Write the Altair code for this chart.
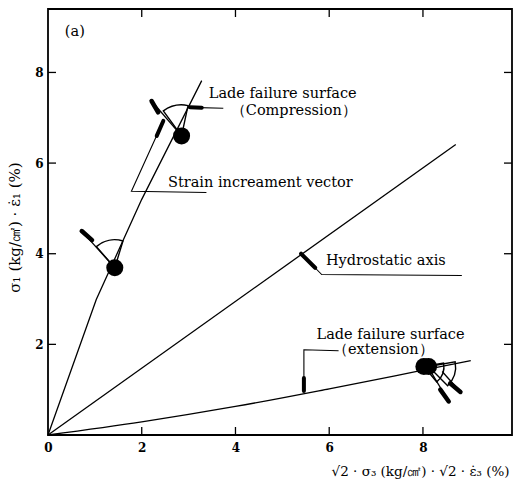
import altair as alt
import pandas as pd

# ---------------- data (data units) ----------------
x_tick_vals = [0, 2, 4, 6, 8]
y_tick_vals = [2, 4, 6, 8]
inner_ticks = [2, 4, 6, 8]

# failure surfaces and hydrostatic axis
comp_x = [0, 1.03, 2.00, 3.28]
comp_y = [0, 2.99, 5.20, 7.82]
hydro_x = [0, 8.70]
hydro_y = [0, 6.41]
ext_x = [0, 2.0, 4.0, 6.0, 8.0, 9.02]
ext_y = [0, 0.29, 0.63, 1.02, 1.43, 1.64]

# stress points
pt_x = [1.425, 2.85, 8.02, 8.12]
pt_y = [3.69, 6.60, 1.51, 1.51]

# strain increment vectors: start, head base, tip
vec_x0 = [1.425, 2.85, 8.19, 8.41]
vec_y0 = [3.69, 6.60, 1.36, 1.40]
vec_xh = [0.94, 2.35, 8.37, 8.58]
vec_yh = [4.30, 7.12, 1.00, 1.14]
vec_x1 = [0.72, 2.21, 8.55, 8.80]
vec_y1 = [4.50, 7.37, 0.74, 0.95]

# angle arcs: centre and start/end angle (degrees, clockwise from up)
arc_x = [1.425, 2.85, 8.02, 8.12]
arc_y = [3.69, 6.60, 1.51, 1.51]
arc_a0 = [319, 324, 80, 80]
arc_a1 = [377, 372, 140, 135]

# leader lines (polylines)
lead_group = ["strain", "strain", "strain", "comp", "comp",
              "hydro", "hydro", "hydro", "ext", "ext", "ext"]
lead_x = [3.38, 1.78, 2.46, 3.74, 3.03, 8.83, 5.84, 5.40, 6.20, 5.46, 5.46]
lead_y = [5.35, 5.38, 6.93, 7.21, 7.23, 3.52, 3.54, 4.00, 1.86, 1.88, 0.97]
# leader arrow heads: base -> tip
head_x0 = [2.32, 3.28, 5.70, 5.46]
head_y0 = [6.60, 7.22, 3.69, 1.26]
head_x1 = [2.46, 3.03, 5.40, 5.46]
head_y1 = [6.93, 7.23, 4.00, 0.97]

# annotations
label_text = ["(a)", "Lade failure surface", "（Compression）",
              "Strain increament vector", "Hydrostatic  axis",
              "Lade failure surface", "（extension）"]
label_x = [0.36, 3.43, 3.90, 2.56, 5.93, 5.73, 6.08]
label_y = [8.89, 7.52, 7.15, 5.57, 3.83, 2.21, 1.88]

# ---------------- styles ----------------
W, H = 464, 426
TICK = 8
arc_radius = [28, 31, 20, 27]
FONT = "DejaVu Serif"

xs = alt.Scale(domain=[0, 9.9], nice=False, zero=False)
ys = alt.Scale(domain=[0, 9.4], nice=False, zero=False)

X_AX = alt.Axis(
    values=x_tick_vals, grid=False, domain=False, ticks=False, labelPadding=7,
    labelFlush=False,
    labelFont=FONT, labelFontSize=12, labelFontWeight="bold", labelColor="black",
    title="√2 · σ₃ (kg/㎠) · √2 · ε̇₃ (%)", titleFont=FONT, titleFontSize=13.5,
    titleFontWeight="normal", titleColor="black", titleAlign="right",
    titleAnchor="end", titleX=461, titleY=40, titleBaseline="alphabetic")
Y_AX = alt.Axis(
    values=y_tick_vals, grid=False, domain=False, ticks=False, labelPadding=5,
    labelFlush=False,
    labelFont=FONT, labelFontSize=12, labelFontWeight="bold", labelColor="black",
    title="σ₁ (kg/㎠) · ε̇₁ (%)", titleFont=FONT, titleFontSize=15,
    titleFontWeight="normal", titleColor="black", titleAngle=270,
    titleAlign="center", titleBaseline="middle", titleX=-34, titleY=218)


def X(f):
    return alt.X(f, scale=xs, axis=X_AX)


def Y(f):
    return alt.Y(f, scale=ys, axis=Y_AX)


# ---------------- frames ----------------
curve_df = pd.concat([
    pd.DataFrame({"x": comp_x, "y": comp_y, "g": "comp", "i": range(len(comp_x))}),
    pd.DataFrame({"x": hydro_x, "y": hydro_y, "g": "hydro", "i": range(len(hydro_x))}),
], ignore_index=True)
ext_df = pd.DataFrame({"x": ext_x, "y": ext_y, "i": range(len(ext_x))})

pts_df = pd.DataFrame({"x": pt_x, "y": pt_y})
vec_df = pd.DataFrame({"x0": vec_x0, "y0": vec_y0, "xh": vec_xh, "yh": vec_yh,
                       "x1": vec_x1, "y1": vec_y1})
arc_df = pd.DataFrame({"x": arc_x, "y": arc_y, "a0": arc_a0, "a1": arc_a1, "r": arc_radius})
lead_df = pd.DataFrame({"x": lead_x, "y": lead_y, "g": lead_group, "i": range(len(lead_x))})
head_df = pd.DataFrame({"x0": head_x0, "y0": head_y0, "x1": head_x1, "y1": head_y1})
lab_df = pd.DataFrame({"t": label_text, "x": label_x, "y": label_y})
tick_df = pd.DataFrame({"t": inner_ticks})

# ---------------- layers ----------------
curves = alt.Chart(curve_df).mark_line(color="black", strokeWidth=1.3).encode(
    x=X("x:Q"), y=Y("y:Q"), detail="g:N", order="i:Q")

ext_curve = alt.Chart(ext_df).mark_line(color="black", strokeWidth=1.3,
                                        interpolate="monotone").encode(
    x=X("x:Q"), y=Y("y:Q"), order="i:Q")

leaders = alt.Chart(lead_df).mark_line(color="black", strokeWidth=1.1).encode(
    x=X("x:Q"), y=Y("y:Q"), detail="g:N", order="i:Q")

shafts = alt.Chart(vec_df).mark_rule(color="black", strokeWidth=1.3).encode(
    x=X("x0:Q"), y=Y("y0:Q"), x2="x1:Q", y2="y1:Q")

vheads = alt.Chart(vec_df).mark_rule(color="black", strokeWidth=4.5, strokeCap="round").encode(
    x=X("xh:Q"), y=Y("yh:Q"), x2="x1:Q", y2="y1:Q")

lheads = alt.Chart(head_df).mark_rule(color="black", strokeWidth=4, strokeCap="round").encode(
    x=X("x0:Q"), y=Y("y0:Q"), x2="x1:Q", y2="y1:Q")

arcs = alt.Chart(arc_df).transform_calculate(
    t0="datum.a0 * PI / 180", t1="datum.a1 * PI / 180"
).mark_arc(filled=False, stroke="black", strokeWidth=1.4).encode(
    x=X("x:Q"), y=Y("y:Q"),
    theta=alt.Theta("t0:Q", scale=None, stack=False), theta2="t1:Q",
    radius=alt.Radius("r:Q", scale=None))

points = alt.Chart(pts_df).mark_circle(color="black", size=290, opacity=1).encode(
    x=X("x:Q"), y=Y("y:Q"))

labels = alt.Chart(lab_df).mark_text(align="left", baseline="middle", font=FONT,
                                     fontSize=14.5, color="black").encode(
    x=X("x:Q"), y=Y("y:Q"), text="t:N")

tb = alt.Chart(tick_df).mark_rule(color="black", strokeWidth=1.3).encode(
    x=X("t:Q"), y=alt.value(H), y2=alt.value(H - TICK))
tt = alt.Chart(tick_df).mark_rule(color="black", strokeWidth=1.3).encode(
    x=X("t:Q"), y=alt.value(0), y2=alt.value(TICK))
tl = alt.Chart(tick_df).mark_rule(color="black", strokeWidth=1.3).encode(
    y=Y("t:Q"), x=alt.value(0), x2=alt.value(TICK))
tr = alt.Chart(tick_df).mark_rule(color="black", strokeWidth=1.3).encode(
    y=Y("t:Q"), x=alt.value(W), x2=alt.value(W - TICK))

chart = alt.layer(curves, ext_curve, leaders, shafts, vheads, lheads, arcs, points,
                  labels, tb, tt, tl, tr).properties(
    width=W, height=H,
    padding={"left": 48, "top": 9, "right": 14, "bottom": 45},
    autosize=alt.AutoSizeParams(type="none"),
    background="white",
).configure_view(stroke="black", strokeWidth=1.8)

chart.save("out.html", embed_options={"renderer": "svg", "actions": False})
